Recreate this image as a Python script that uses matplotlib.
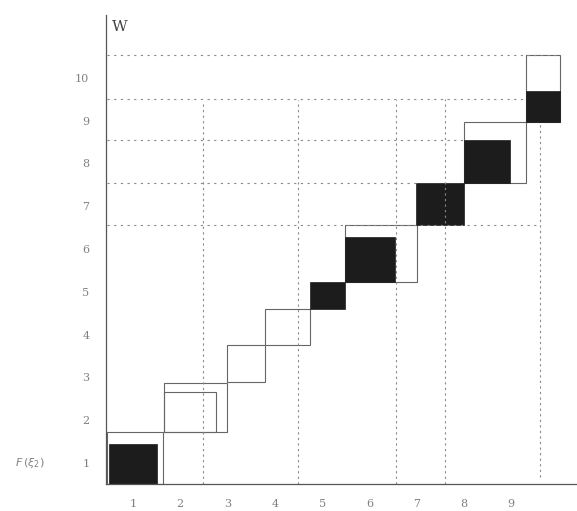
import matplotlib
matplotlib.use("Agg")
import matplotlib.pyplot as plt
from matplotlib.patches import Rectangle

# tick labels
x_ticks = [1, 2, 3, 4, 5, 6, 7, 8, 9]
y_ticks = [1, 2, 3, 4, 5, 6, 7, 8, 9, 10]

# filled (dark) blocks: x0, x1, y0, y1
fill_x0 = [0.50, 4.74, 5.48, 6.98, 8.00, 9.31]
fill_x1 = [1.50, 5.48, 6.54, 8.00, 8.97, 10.03]
fill_y0 = [0.50, 4.60, 5.23, 6.56, 7.54, 8.97]
fill_y1 = [1.45, 5.23, 6.28, 7.54, 8.55, 9.69]

# open (outline) blocks
open_x0 = [0.45, 1.66, 1.66, 2.99, 3.79, 5.48, 8.00, 9.31]
open_x1 = [1.63, 2.75, 2.99, 3.79, 4.74, 7.00, 9.31, 10.03]
open_y0 = [0.50, 1.72, 1.72, 2.89, 3.76, 5.23, 7.54, 8.97]
open_y1 = [1.72, 2.66, 2.87, 3.76, 4.60, 6.56, 8.97, 10.53]

# dashed guide lines
vline_x = [2.48, 4.50, 6.56, 7.60, 9.60]
vline_top = [9.41, 9.48, 9.48, 9.50, 8.97]
vline_bot = [0.50, 0.50, 0.50, 0.50, 0.67]
hline_y = [10.53, 9.50, 8.55, 7.54, 6.56]
hline_end = [10.03, 9.31, 8.00, 6.98, 9.60]

plt.rcParams['font.family'] = ['DejaVu Serif', 'DejaVu Sans']

fig = plt.figure(figsize=(5.77, 5.11), dpi=100)
ax = fig.add_axes([106 / 577, 27 / 511, 471 / 577, 469 / 511])
ax.set_xlim(0.43, 10.39)
ax.set_ylim(0.51, 11.47)

gc = '#8a8a8a'
for x, t, b in zip(vline_x, vline_top, vline_bot):
    ax.plot([x, x], [b, t], color=gc, lw=0.8, ls=(0, (2, 3)))
for y, e in zip(hline_y, hline_end):
    ax.plot([0.45, e], [y, y], color=gc, lw=0.8, ls=(0, (2, 4)))

for x0, x1, y0, y1 in zip(open_x0, open_x1, open_y0, open_y1):
    ax.add_patch(Rectangle((x0, y0), x1 - x0, y1 - y0, fill=False,
                           edgecolor='#666666', lw=0.8))
for x0, x1, y0, y1 in zip(fill_x0, fill_x1, fill_y0, fill_y1):
    ax.add_patch(Rectangle((x0, y0), x1 - x0, y1 - y0,
                           facecolor='#1c1c1c', edgecolor='#1c1c1c', lw=0.5))

for s in ['top', 'right']:
    ax.spines[s].set_visible(False)
ax.spines['left'].set_color('#555555')
ax.spines['left'].set_linestyle((0, (2, 1)))
ax.spines['left'].set_linewidth(0.9)
ax.spines['bottom'].set_color('#555555')
ax.spines['bottom'].set_linestyle((0, (3, 1)))
ax.spines['bottom'].set_linewidth(0.9)

ax.set_xticks(x_ticks)
ax.set_xticklabels([str(v) for v in x_ticks])
ax.set_yticks(y_ticks)
ax.set_yticklabels([str(v) for v in y_ticks])
ax.tick_params(length=0, colors='#808080', labelsize=8)
ax.tick_params(axis='x', pad=11)
ax.tick_params(axis='y', pad=12)

ax.text(0.55, 11.2, 'W', fontsize=11, color='#444444', va='center')
ax.text(30 / 577, 1 - 463 / 511, r'$F\,(\xi_2)$', fontsize=8,
        color='#808080', va='center', ha='center', transform=fig.transFigure)

fig.savefig('out.png', dpi=100)
